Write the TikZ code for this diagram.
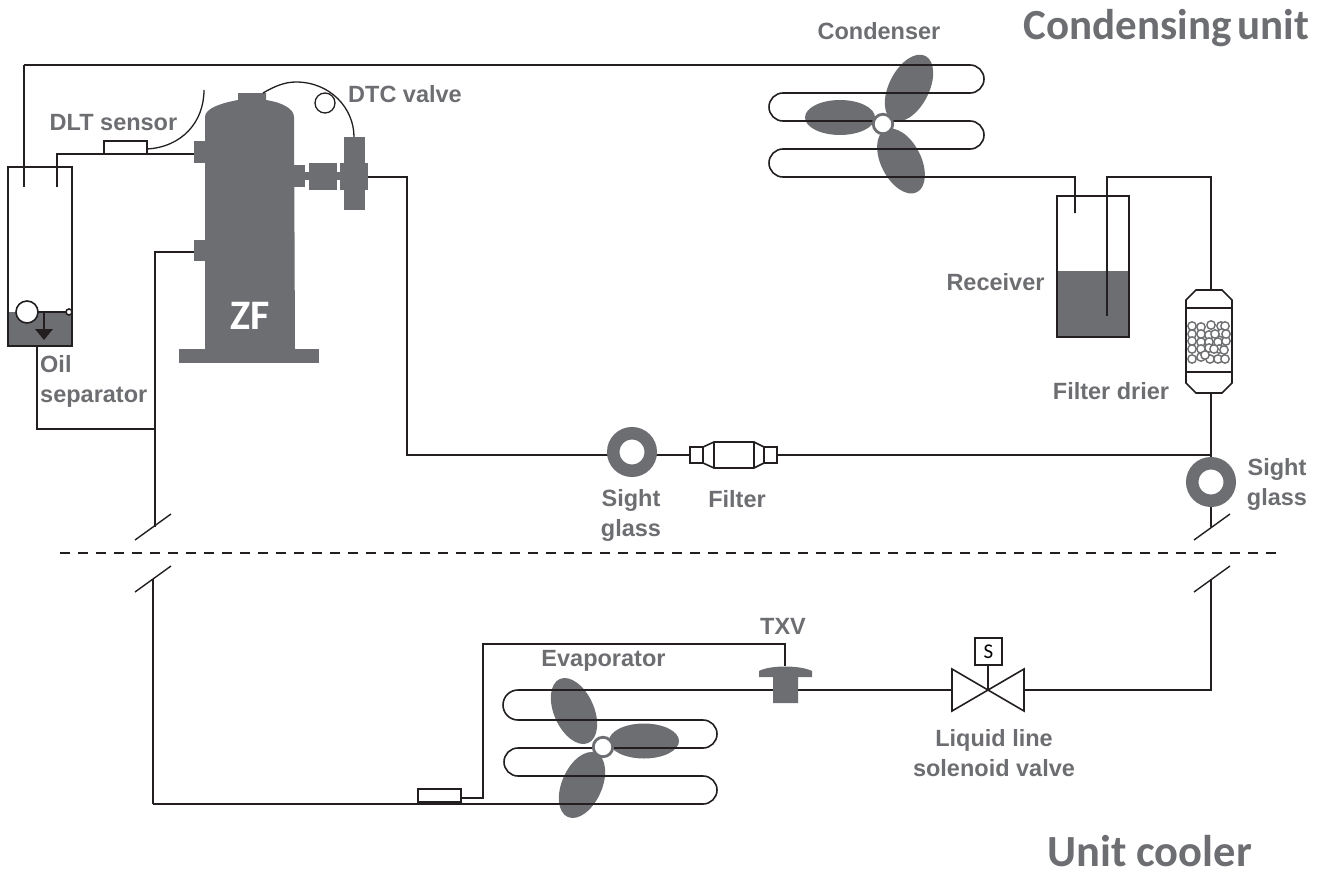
\documentclass[tikz,border=0pt]{standalone}
\usepackage{fontspec}
\setmainfont{Liberation Sans}
\newfontfamily\carl{Carlito}
\definecolor{greyfill}{HTML}{6D6E71}
\definecolor{pipe}{HTML}{231F20}
\tikzset{
  pipeline/.style={draw=pipe,line width=1.6pt,line join=miter},
  thin pipe/.style={draw=pipe,line width=1.3pt},
  grey part/.style={fill=greyfill,draw=none},
  label text/.style={text=greyfill,font=\fontsize{23.5}{30}\selectfont\bfseries,align=center,inner sep=0pt},
  head text/.style={text=greyfill,font=\carl\fontsize{43}{44}\selectfont\bfseries,inner sep=0pt},
  sensorbox/.style={draw=pipe,line width=1.5pt,fill=white,minimum width=43pt,minimum height=13pt,inner sep=0pt},
  sightglass/.style={circle,draw=greyfill,line width=12.5pt,fill=white,minimum size=37.5pt,inner sep=0pt},
  blade/.style={fill=greyfill,draw=none},
  hubring/.style={circle,draw=greyfill,line width=2.8pt,fill=white,minimum size=19.5pt,inner sep=0pt},
  breakmark/.style={draw=pipe,line width=1.4pt},
  ballmark/.style={draw=greyfill,line width=1.4pt,fill=white}
}
\begin{document}
\begin{tikzpicture}[x=1pt,y=-1pt]
\useasboundingbox (0,0) rectangle (1331,875);
% named points
\coordinate (sepA) at (24,187); \coordinate (sepB) at (57,187);
\coordinate (condIn) at (24,65);
\coordinate (dischCorner) at (57,154); \coordinate (dischPort) at (194,154);
\coordinate (sucPort) at (194,252); \coordinate (sucCorner) at (155,252);
\coordinate (valveOut) at (368,177); \coordinate (valveCorner) at (407,177); \coordinate (lineCorner) at (407,455);
\coordinate (rightTee) at (1211,455);
\coordinate (oilOut) at (37,346); \coordinate (oilCorner) at (37,429); \coordinate (oilTee) at (155,429);
\coordinate (breakUL) at (155,527); \coordinate (breakLL) at (153,579);
\coordinate (lowCorner) at (153,804);
\coordinate (breakUR) at (1211,527); \coordinate (breakLR) at (1211,579);
\coordinate (solCorner) at (1211,690);
% condenser fan
\fill[blade,rotate around={63:(909,88)}] (909,88) ellipse [x radius=36pt,y radius=20pt];
\fill[blade] (840,117.5) ellipse [x radius=35pt,y radius=17.5pt];
\fill[blade,rotate around={-63:(901,161)}] (901,161) ellipse [x radius=35pt,y radius=20pt];
% evaporator fan
\fill[blade] (644,741) ellipse [x radius=35pt,y radius=17.5pt];
\fill[blade,rotate around={-66:(574,711)}] (574,711) ellipse [x radius=35pt,y radius=20pt];
\fill[blade,rotate around={66:(582,785)}] (582,785) ellipse [x radius=35pt,y radius=20pt];
% condenser coil
\draw[pipeline] (condIn) -- (970,65) arc (90:-90:14pt) -- (783,93) arc (90:270:14pt) -- (970,121) arc (90:-90:14pt) -- (783,149) arc (90:270:14pt) -- (1075,177) -- (1075,213);
\node[hubring] (condHub) at (883,124) {};
% evaporator coil and liquid line
\draw[pipeline] (lowCorner) -- (703,804) arc (-90:90:14pt) -- (518,776) arc (270:90:14pt) -- (703,748) arc (-90:90:14pt) -- (518,720) arc (270:90:15pt) -- (952,690);
\node[hubring] (evapHub) at (603,747) {};
% oil separator
\fill[greyfill] (8,312) rectangle (72,346);
\draw[pipeline] (8,167) rectangle (72,346);
\draw[pipeline] (condIn) -- (sepA);
\draw[pipeline] (sepB) -- (dischCorner) -- (dischPort);
\draw[pipeline,fill=white] (27,312) circle (11pt);
\draw[pipeline] (38,312) -- (66,312);
\draw[pipeline,fill=white] (69,312) circle (3pt);
\draw[pipeline] (44,312) -- (44,330);
\fill[pipe] (35,329) -- (53,329) -- (44,340) -- cycle;
% compressor
\fill[grey part] (205,349) -- (205,117) .. controls (205,108) and (222,103) .. (238,100) -- (238,93) -- (266,93) -- (266,100) .. controls (280,102) and (294,108) .. (294,117) -- (295,349) -- cycle;
\fill[grey part] (179,349) rectangle (319,363);
\fill[grey part] (194,141) rectangle (206,163);
\fill[grey part] (194,240) rectangle (206,261);
\fill[grey part] (294,165) rectangle (305,187);
\fill[grey part] (305,172) rectangle (340,180);
\fill[grey part] (309,163) rectangle (337,190);
\fill[grey part] (340,163) rectangle (368,190);
\fill[grey part] (344,137) rectangle (365,210);
\node[text=white,font=\carl\fontsize{42}{42}\selectfont\bfseries,inner sep=0pt] (zf) at (250,316) {ZF};
% capillary and bulbs
\draw[thin pipe] (263,93) .. controls (275,86) and (285,82) .. (296,82) .. controls (330,82) and (354,108) .. (354,137);
\draw[thin pipe,fill=white] (325,103) circle (10pt);
\draw[thin pipe] (147,149) .. controls (182,147) and (204,122) .. (204,90);
\node[sensorbox] (dlt) at (125.5,147.5) {};
% main lines
\draw[pipeline] (valveOut) -- (valveCorner) -- (lineCorner) -- (rightTee);
\draw[pipeline] (1107,316) -- (1107,177) -- (1211,177) -- (rightTee);
\draw[pipeline] (rightTee) -- (breakUR);
\draw[pipeline] (sucPort) -- (sucCorner) -- (breakUL);
\draw[pipeline] (oilOut) -- (oilCorner) -- (oilTee);
\draw[pipeline] (breakLL) -- (lowCorner);
% receiver
\fill[greyfill] (1057,271) rectangle (1129,337);
\draw[pipeline] (1057,196) rectangle (1129,337);
\draw[pipeline] (1107,316) -- (1107,196);
\draw[pipeline] (1075,177) -- (1075,213);
% filter drier
\draw[pipeline,fill=white] (1196,290) -- (1222,290) -- (1232,300) -- (1232,383) -- (1222,393) -- (1196,393) -- (1186,383) -- (1186,300) -- cycle;
\draw[pipeline] (1186,308) -- (1232,308);
\draw[pipeline] (1186,372) -- (1232,372);
\foreach \p in {(1192,326),(1201,327),(1211,325),(1221,326),(1225,326),(1192,334),(1201,334),(1209,335),(1222,333),(1192,341),(1201,342),(1209,342),(1218,342),(1226,341),(1192,349),(1201,349),(1209,348),(1219,349),(1224,350),(1192,359),(1201,357),(1210,359),(1218,359),(1225,359),(1215,334),(1226,334),(1214,349),(1205,355)}
  \draw[ballmark] \p circle (4.2pt);
% sight glasses
\node[sightglass] (sg1) at (632,452) {};
\node[sightglass] (sg2) at (1211,482) {};
% line filter
\draw[pipeline,fill=white] (690,447) rectangle (703,463);
\draw[pipeline,fill=white] (764,447) rectangle (777,463);
\draw[pipeline,fill=white] (703,447) -- (714,442) -- (754,442) -- (764,447) -- (764,463) -- (754,468) -- (714,468) -- (703,463) -- cycle;
\draw[pipeline] (714,442) -- (714,468);
\draw[pipeline] (754,442) -- (754,468);
% break marks
\draw[breakmark] (135,540) -- (171,514);
\draw[breakmark] (135,592) -- (171,566);
\draw[breakmark] (1194,540) -- (1230,514);
\draw[breakmark] (1194,592) -- (1230,566);
\draw[pipe,line width=1.5pt,dash pattern=on 10pt off 8pt] (60,553) -- (1280,553);
% lower line
\draw[pipeline] (1024,690) -- (solCorner) -- (breakLR);
\draw[pipeline] (785,666) -- (785,644) -- (483,644) -- (483,798) -- (461,798);
\node[sensorbox,minimum height=13pt] (bulb) at (439.5,795.5) {};
% TXV
\fill[grey part] (759,677) -- (759,671) .. controls (770,665) and (800,665) .. (812,671) -- (812,677) -- (798,677) -- (798,703) -- (773,703) -- (773,677) -- cycle;
% solenoid
\draw[pipeline,fill=white] (952,669) -- (1024,711) -- (1024,669) -- (952,711) -- cycle;
\draw[thin pipe] (988,690) -- (988,665);
\node[draw=pipe,line width=1.5pt,minimum width=27pt,minimum height=27pt,inner sep=0pt,font=\carl\fontsize{21}{21}\selectfont] (sbox) at (988.5,651.5) {S};
% labels
\node[head text,anchor=base east] (h1) at (1309,39.5) {Condensing\hspace{-0.1em} unit};
\node[head text,anchor=base,font=\carl\fontsize{44.5}{46}\selectfont\bfseries] (h2) at (1149.5,866.5) {Unit cooler};
\node[label text] (l1) at (879,31) {Condenser};
\node[label text] (l2) at (405,94) {DTC valve};
\node[label text] (l3) at (113.5,123) {DLT sensor};
\node[label text,align=left,anchor=north west] (l4) at (40,355) {Oil\\separator};
\node[label text] (l5) at (995.5,282) {Receiver};
\node[label text] (l6) at (1111,391) {Filter drier};
\node[label text] (l7) at (631,515) {Sight\\glass};
\node[label text] (l8) at (737,499) {Filter};
\node[label text] (l9) at (1277,484) {Sight\\glass};
\node[label text] (l10) at (603.5,661) {Evaporator};
\node[label text] (l11) at (783,626) {TXV};
\node[label text] (l12) at (994,753) {Liquid line\\solenoid valve};
\end{tikzpicture}
\end{document}
